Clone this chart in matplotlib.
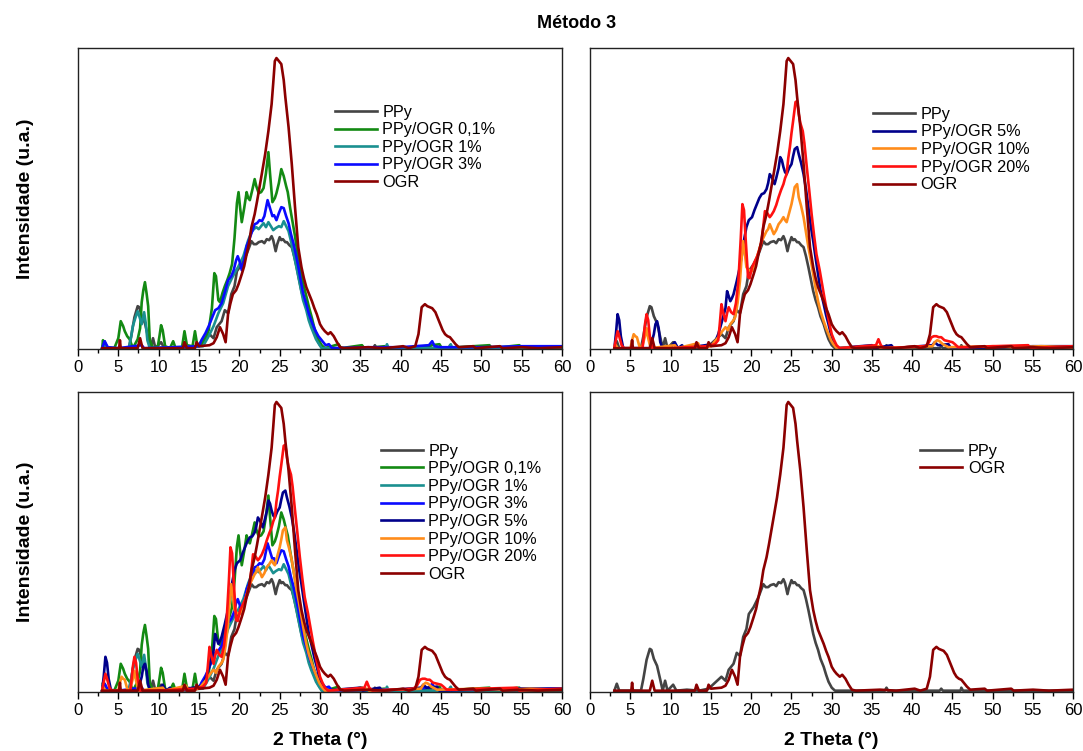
import numpy as np
import matplotlib
matplotlib.use('Agg')
import matplotlib.pyplot as plt
from matplotlib.ticker import MultipleLocator

plt.rcParams['font.family'] = ['Liberation Sans', 'DejaVu Sans']

# 2 theta (deg) / intensity (a.u.)
ppy_x = [3.0, 3.3, 3.6, 6.3, 6.6, 7.0, 7.4, 7.6, 7.9, 8.3, 8.7, 9.0, 9.3, 9.6, 10.3, 10.7, 12.0, 13.5, 14.7, 15.5,
         16.3, 16.8, 17.2, 17.8, 18.2, 18.6, 19.0, 19.4, 19.7, 20.3, 20.9, 21.5, 21.8, 22.1, 22.4, 22.8, 23.1, 23.4,
         23.7, 24.0, 24.2, 24.5, 24.7, 25.0, 25.2, 25.4, 25.7, 25.9, 26.2, 26.5, 26.8, 27.1, 27.4, 27.7, 28.0, 28.3,
         28.6, 29.0, 29.3, 29.6, 30.0, 30.4, 36.6, 36.8, 37.0, 43.4, 43.6, 43.8, 46.0, 46.1, 46.3, 60.0]
ppy_y = [0, 7, 0, 0, 12, 31, 42, 41, 32, 25, 11, 0, 10, 0, 6, 0, 1, 0, 2, 8,
         14, 10, 21, 27, 38, 35, 54, 62, 77, 84, 94, 107, 104, 104, 106, 107, 105, 109,
         108, 112, 108, 97, 104, 111, 108, 109, 106, 106, 103, 101, 92, 81, 69, 57, 48, 41,
         32, 24, 16, 9, 3, 0, 0, 3, 0, 0, 2, 0, 0, 3, 0, 0]

ogr_x = [3.0, 5.1, 5.2, 5.3, 7.4, 7.7, 8.0, 13.0, 13.2, 13.5, 14.5, 14.7, 15.0, 16.3, 16.8, 17.2, 17.6, 18.0, 18.3,
         18.6, 18.9, 19.2, 19.6, 19.9, 20.3, 20.6, 20.9, 21.2, 21.5, 21.9, 22.2, 22.5, 22.8, 23.2, 23.6, 24.0, 24.2,
         24.4, 24.6, 24.8, 25.0, 25.2, 25.5, 25.7, 26.1, 26.5, 26.9, 27.3, 27.7, 28.0, 28.3, 28.6, 29.0, 29.3, 29.6,
         30.0, 30.3, 30.6, 31.0, 31.3, 31.7, 32.1, 32.5, 33.0, 36.0, 38.0, 40.3, 41.0, 41.8, 42.2, 42.6, 43.0, 43.3,
         43.6, 43.9, 44.3, 44.6, 44.9, 45.2, 45.5, 45.8, 46.1, 46.5, 46.8, 47.2, 49.0, 49.3, 52.3, 52.6, 55.0, 57.0, 60.0]
ogr_y = [0, 0, 8, 0, 0, 10, 0, 0, 6, 0, 0, 6, 2, 3, 5, 11, 21, 14, 6,
         34, 45, 54, 58, 64, 74, 82, 94, 105, 121, 134, 147, 161, 175, 194, 217, 244, 265,
         287, 290, 288, 286, 284, 268, 251, 221, 184, 141, 101, 81, 70, 61, 55, 47, 40, 34,
         24, 20, 17, 14, 16, 12, 6, 1, 0, 1, 0, 2, 0, 2, 14, 41, 44, 42,
         41, 40, 36, 30, 24, 18, 14, 12, 11, 7, 4, 1, 2, 0, 2, 0, 1, 0, 1]

g01_x = [3.0, 3.1, 3.3, 4.5, 5.0, 5.3, 5.6, 5.8, 6.1, 6.4, 6.8, 7.4, 7.7, 7.9, 8.1, 8.3, 8.5, 8.7, 8.9, 9.3, 9.9,
         10.1, 10.3, 10.5, 10.8, 11.4, 11.8, 12.1, 12.9, 13.2, 13.5, 14.2, 14.5, 14.8, 15.3, 15.8, 16.2, 16.6, 16.9,
         17.1, 17.4, 17.6, 17.9, 18.2, 18.5, 18.8, 19.1, 19.4, 19.7, 19.9, 20.1, 20.3, 20.6, 20.9, 21.1, 21.3, 21.6,
         21.9, 22.1, 22.4, 22.7, 23.0, 23.3, 23.6, 23.8, 24.1, 24.4, 24.6, 24.9, 25.2, 25.5, 25.8, 26.0, 26.3, 26.6,
         26.9, 27.2, 27.5, 27.9, 28.3, 28.6, 29.0, 29.3, 29.7, 30.2, 30.6, 32.3, 32.6, 35.2, 35.5, 38.0, 38.3, 42.0,
         44.8, 45.1, 51.0, 51.3, 54.7, 55.0, 60.0]
g01_y = [0, 8, 1, 0, 10, 27, 22, 17, 12, 9, 0, 9, 20, 46, 58, 66, 55, 42, 8, 0, 2,
         12, 23, 18, 2, 0, 7, 0, 1, 17, 3, 2, 17, 2, 3, 10, 18, 40, 75,
         72, 48, 46, 55, 62, 68, 75, 84, 110, 145, 156, 140, 126, 140, 156, 150, 148, 158,
         169, 162, 155, 156, 160, 175, 196, 175, 146, 150, 155, 165, 179, 172, 162, 156, 140, 126,
         112, 95, 80, 65, 52, 42, 30, 20, 10, 3, 0, 4, 0, 3, 0, 2, 0, 1,
         4, 0, 3, 0, 3, 0, 1]

g1_x = [3.0, 3.3, 3.6, 6.3, 6.6, 6.8, 7.1, 7.4, 7.6, 7.9, 8.2, 8.4, 8.6, 8.9, 12.0, 15.5, 16.2, 16.8, 17.4, 18.0,
        18.6, 19.2, 19.9, 20.5, 21.1, 21.5, 21.8, 22.1, 22.4, 22.7, 23.0, 23.3, 23.6, 23.9, 24.2, 24.5, 24.9, 25.2,
        25.5, 25.8, 26.1, 26.4, 26.7, 27.0, 27.3, 27.6, 27.9, 28.3, 28.6, 28.9, 29.2, 29.5, 29.8, 30.2, 38.1, 38.3,
        38.5, 46.0, 46.2, 46.4, 60.0]
g1_y = [0, 2, 0, 0, 12, 22, 30, 37, 32, 24, 36, 25, 8, 0, 1, 2, 12, 22, 35, 45,
        62, 72, 82, 92, 108, 116, 119, 121, 119, 122, 125, 121, 126, 122, 118, 120, 122, 121,
        127, 122, 117, 107, 95, 84, 72, 60, 48, 38, 28, 21, 15, 9, 5, 0, 0, 4,
        0, 0, 4, 0, 1]

g3_x = [3.0, 3.3, 3.7, 5.0, 7.9, 8.2, 12.0, 15.0, 15.3, 15.8, 16.2, 16.6, 17.0, 17.4, 17.8, 18.2, 18.6, 19.0, 19.3,
        19.6, 19.8, 20.1, 20.3, 20.6, 20.9, 21.2, 21.5, 21.9, 22.2, 22.5, 22.8, 23.1, 23.3, 23.5, 23.8, 24.1, 24.3,
        24.6, 24.9, 25.2, 25.5, 25.8, 26.1, 26.4, 26.7, 27.0, 27.3, 27.6, 27.9, 28.3, 28.6, 29.0, 29.4, 29.8, 30.3,
        30.7, 31.1, 31.5, 36.0, 40.0, 43.5, 43.9, 44.2, 45.0, 50.0, 55.0, 60.0]
g3_y = [0, 7, 1, 0, 3, 0, 1, 2, 8, 15, 22, 30, 38, 40, 45, 56, 68, 72, 78,
        88, 92, 85, 78, 88, 102, 108, 115, 124, 125, 128, 127, 132, 140, 148, 140, 132, 133,
        128, 135, 141, 140, 132, 125, 114, 105, 94, 82, 68, 55, 44, 35, 26, 18, 12, 7,
        3, 4, 0, 1, 1, 3, 7, 2, 1, 1, 2, 2]

g5_x = [3.0, 3.2, 3.4, 3.6, 3.8, 4.1, 7.4, 7.7, 7.9, 8.1, 8.3, 8.5, 8.7, 9.0, 9.9, 10.5, 10.9, 11.4, 11.7, 14.3,
        15.1, 15.5, 15.9, 16.3, 16.5, 16.8, 17.0, 17.2, 17.4, 17.6, 17.8, 18.2, 18.5, 18.8, 19.1, 19.4, 19.7, 20.1,
        20.4, 20.7, 21.0, 21.3, 21.6, 21.9, 22.1, 22.3, 22.6, 22.9, 23.1, 23.4, 23.6, 23.8, 24.0, 24.2, 24.4, 24.7,
        25.0, 25.2, 25.4, 25.7, 25.9, 26.2, 26.5, 26.8, 27.1, 27.4, 27.7, 28.0, 28.3, 28.6, 29.0, 29.3, 29.6, 29.9,
        30.2, 30.6, 35.0, 35.3, 37.4, 37.7, 42.5, 42.8, 43.2, 44.5, 44.8, 50.0, 55.0, 60.0]
g5_y = [0, 15, 34, 28, 12, 0, 0, 8, 14, 24, 27, 20, 6, 0, 0, 6, 0, 3, 0, 3,
        4, 6, 14, 25, 31, 40, 57, 52, 47, 50, 54, 67, 78, 91, 108, 121, 128, 131,
        138, 144, 150, 154, 155, 159, 165, 174, 170, 164, 170, 180, 191, 188, 181, 176, 174, 180,
        184, 192, 199, 201, 194, 185, 174, 159, 141, 122, 107, 90, 74, 58, 44, 33, 24, 14,
        7, 0, 3, 0, 3, 0, 3, 6, 3, 4, 0, 1, 2, 2]

g10_x = [3.0, 3.1, 3.4, 5.0, 5.2, 5.4, 5.6, 5.8, 6.1, 6.4, 6.8, 7.0, 7.2, 7.5, 10.5, 10.8, 13.4, 13.7, 15.0, 15.9,
         16.4, 16.8, 17.1, 17.4, 17.8, 18.0, 18.3, 18.6, 18.8, 19.0, 19.2, 19.4, 19.7, 20.1, 20.4, 20.7, 21.0, 21.3,
         21.6, 21.9, 22.1, 22.3, 22.6, 22.8, 23.1, 23.4, 23.7, 24.0, 24.2, 24.4, 24.7, 25.0, 25.2, 25.4, 25.7, 25.9,
         26.2, 26.5, 26.8, 27.1, 27.4, 27.7, 28.0, 28.3, 28.6, 29.0, 29.3, 29.6, 29.9, 30.2, 30.6, 35.8, 36.1, 42.5,
         42.8, 43.1, 43.4, 43.8, 44.5, 50.0, 53.0, 56.0, 60.0]
g10_y = [0, 4, 0, 0, 8, 14, 12, 11, 2, 0, 12, 20, 10, 0, 3, 0, 5, 0, 2, 11,
         17, 21, 18, 24, 28, 31, 45, 67, 90, 107, 95, 81, 78, 77, 84, 91, 99, 107,
         112, 117, 119, 124, 118, 114, 118, 124, 127, 131, 128, 126, 135, 144, 152, 161, 164, 151,
         142, 131, 116, 101, 88, 74, 60, 47, 37, 27, 20, 14, 8, 4, 0, 2, 0, 2,
         6, 8, 7, 4, 1, 2, 1, 2, 1]

g20_x = [3.0, 3.1, 3.4, 3.6, 3.9, 4.2, 6.5, 6.8, 7.0, 7.2, 7.4, 7.7, 10.0, 12.0, 14.5, 15.5, 15.9, 16.1, 16.3, 16.5,
         16.8, 17.0, 17.2, 17.5, 17.8, 18.1, 18.4, 18.7, 18.9, 19.1, 19.3, 19.6, 19.8, 20.1, 20.4, 20.7, 21.0, 21.3,
         21.5, 21.7, 22.0, 22.3, 22.5, 22.8, 23.1, 23.4, 23.7, 24.0, 24.2, 24.4, 24.6, 24.8, 25.0, 25.2, 25.5, 25.7,
         25.9, 26.1, 26.4, 26.6, 26.9, 27.2, 27.5, 27.8, 28.1, 28.5, 28.8, 29.1, 29.4, 29.7, 30.0, 30.3, 30.6, 31.0,
         35.5, 35.8, 36.1, 36.5, 41.6, 42.0, 42.4, 42.7, 43.0, 43.3, 43.6, 44.0, 44.5, 45.0, 45.3, 45.7, 47.0, 50.0,
         54.4, 54.7, 57.0, 60.0]
g20_y = [0, 5, 17, 12, 3, 0, 0, 24, 34, 28, 12, 0, 0, 1, 2, 4, 8, 25, 44, 36,
         27, 35, 41, 36, 34, 45, 67, 110, 144, 138, 110, 71, 70, 81, 86, 91, 98, 107,
         122, 137, 135, 131, 133, 137, 143, 151, 158, 164, 170, 174, 190, 201, 215, 227, 246, 247,
         234, 225, 217, 205, 181, 158, 134, 113, 94, 78, 64, 50, 37, 25, 14, 8, 3, 0,
         3, 9, 3, 0, 2, 5, 11, 12, 12, 11, 11, 8, 7, 6, 4, 1, 1, 2,
         3, 0, 1, 2]

series = {
    'PPy': (ppy_x, ppy_y, '#444444'),
    'PPy/OGR 0,1%': (g01_x, g01_y, '#138a13'),
    'PPy/OGR 1%': (g1_x, g1_y, '#1a9090'),
    'PPy/OGR 3%': (g3_x, g3_y, '#0a0aff'),
    'PPy/OGR 5%': (g5_x, g5_y, '#00008b'),
    'PPy/OGR 10%': (g10_x, g10_y, '#ff8c1a'),
    'PPy/OGR 20%': (g20_x, g20_y, '#ff1010'),
    'OGR': (ogr_x, ogr_y, '#8b0000'),
}

panels = [
    (['PPy', 'PPy/OGR 0,1%', 'PPy/OGR 1%', 'PPy/OGR 3%', 'OGR'], (0.53, 0.812)),
    (['PPy', 'PPy/OGR 5%', 'PPy/OGR 10%', 'PPy/OGR 20%', 'OGR'], (0.585, 0.805)),
    (['PPy', 'PPy/OGR 0,1%', 'PPy/OGR 1%', 'PPy/OGR 3%', 'PPy/OGR 5%', 'PPy/OGR 10%', 'PPy/OGR 20%', 'OGR'], (0.625, 0.828)),
    (['PPy', 'OGR'], (0.683, 0.828)),
]

fig = plt.figure(figsize=(10.83, 7.51), dpi=100)
rects = [[0.072, 0.535, 0.447, 0.401], [0.545, 0.535, 0.446, 0.401],
         [0.072, 0.079, 0.447, 0.399], [0.545, 0.079, 0.446, 0.399]]

for i, (names, anchor) in enumerate(panels):
    ax = fig.add_axes(rects[i])
    for name in names:
        x, y, c = series[name]
        ax.plot(x, y, color=c, linewidth=1.9, label=name)
    ax.set_xlim(0, 60)
    ax.set_ylim(-1, 300)
    ax.xaxis.set_major_locator(MultipleLocator(5))
    ax.xaxis.set_minor_locator(MultipleLocator(2.5))
    ax.tick_params(axis='x', which='major', direction='out', length=5, width=1, labelsize=12, pad=3)
    ax.tick_params(axis='x', which='minor', direction='out', length=3, width=1)
    ax.set_yticks([])
    for s in ax.spines.values():
        s.set_linewidth(1.0)
        s.set_color('#222222')
    ax.legend(loc='upper left', bbox_to_anchor=anchor, frameon=False, fontsize=11.7,
              handlelength=2.6, handletextpad=0.35, labelspacing=0.16, borderpad=0, borderaxespad=0)
    if i % 2 == 0:
        ax.set_ylabel('Intensidade (u.a.)', fontsize=14, fontweight='bold', labelpad=32)
    if i >= 2:
        ax.set_xlabel('2 Theta (°)', fontsize=14, fontweight='bold', labelpad=10)

fig.suptitle('Método 3', x=0.532, y=0.98, fontsize=13, fontweight='bold')
fig.savefig('out.png', dpi=100)
